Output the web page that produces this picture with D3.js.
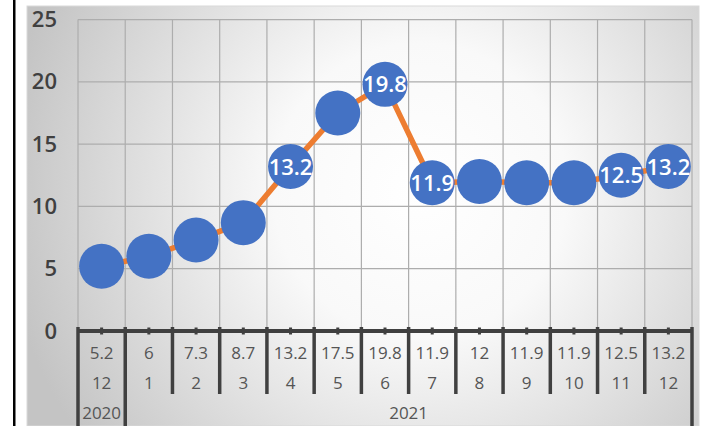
<!DOCTYPE html>
<html>
<head>
<meta charset="utf-8">
<script src="https://cdn.jsdelivr.net/npm/d3@7"></script>
<style>
  html, body { margin: 0; padding: 0; background: #ffffff; }
  svg { display: block; }
  text { font-family: "Open Sans", "Noto Sans", sans-serif; }
</style>
</head>
<body>
<svg id="chart" width="715" height="426"></svg>
<script>
// ---- data ----
const values = [5.2, 6, 7.3, 8.7, 13.2, 17.5, 19.8, 11.9, 12, 11.9, 11.9, 12.5, 13.2];
const months = ["12", "1", "2", "3", "4", "5", "6", "7", "8", "9", "10", "11", "12"];
const years = ["2020", "2021", "2021", "2021", "2021", "2021", "2021", "2021", "2021", "2021", "2021", "2021", "2021"];
const labelShown = [false, false, false, false, true, false, true, true, false, false, false, true, true];
const yTicks = [0, 5, 10, 15, 20, 25];

// ---- layout ----
const W = 715, H = 426;
const plot = { left: 78, right: 692, top: 19.6, bottom: 331 };
const svg = d3.select("#chart");

const defs = svg.append("defs");
const grad = defs.append("radialGradient")
  .attr("id", "bg").attr("gradientUnits", "userSpaceOnUse")
  .attr("cx", 420).attr("cy", 190).attr("r", 420);
grad.append("stop").attr("offset", "0%").attr("stop-color", "#ffffff");
grad.append("stop").attr("offset", "35%").attr("stop-color", "#f9f9f9");
grad.append("stop").attr("offset", "100%").attr("stop-color", "#c4c4c4");

// left black line
svg.append("rect").attr("x", 13).attr("y", 0).attr("width", 2.5).attr("height", H).attr("fill", "#000");

// chart background
svg.append("rect").attr("x", 27).attr("y", 6).attr("width", 672).attr("height", 420)
  .attr("fill", "url(#bg)").attr("stroke", "#d9d9d9").attr("stroke-width", 1);

const idx = values.map((d, i) => i);
const x = d3.scaleBand().domain(idx).range([plot.left, plot.right]).padding(0);
const y = d3.scaleLinear().domain([0, 25]).range([plot.bottom, plot.top]);

// horizontal gridlines
svg.append("g").selectAll("line").data(yTicks.filter(t => t > 0)).join("line")
  .attr("x1", plot.left).attr("x2", plot.right)
  .attr("y1", d => y(d)).attr("y2", d => y(d))
  .attr("stroke", "#adadad").attr("stroke-width", 1.2);

// vertical gridlines at category boundaries
const bounds = idx.map(i => x(i)).concat([x(12) + x.bandwidth()]);
svg.append("g").selectAll("line").data(bounds).join("line")
  .attr("x1", d => d).attr("x2", d => d)
  .attr("y1", plot.top).attr("y2", plot.bottom)
  .attr("stroke", "#adadad").attr("stroke-width", 1.2);

// y axis labels
const yAxis = d3.axisLeft(y).tickValues(yTicks).tickSize(0).tickPadding(21);
const gy = svg.append("g").attr("transform", `translate(${plot.left},0)`).call(yAxis);
gy.select(".domain").remove();
gy.selectAll("text")
  .style("font-family", '"Open Sans", sans-serif')
  .style("font-size", "22px").style("font-weight", "600").attr("fill", "#404040");

// x axis: thick line
svg.append("line").attr("x1", plot.left).attr("x2", plot.right)
  .attr("y1", plot.bottom).attr("y2", plot.bottom)
  .attr("stroke", "#404040").attr("stroke-width", 4);

// minor ticks at centers
svg.append("g").selectAll("rect").data(idx).join("rect")
  .attr("x", d => x(d) + x.bandwidth() / 2 - 1.5).attr("y", plot.bottom - 3.5)
  .attr("width", 3).attr("height", 7).attr("fill", "#404040");

// major ticks at boundaries; year boundaries extend to bottom
const yearBreak = bounds.map((b, i) => i === 0 || i === bounds.length - 1 || years[i] !== years[i - 1]);
svg.append("g").selectAll("line").data(bounds).join("line")
  .attr("x1", d => d).attr("x2", d => d)
  .attr("y1", plot.bottom - 4)
  .attr("y2", (d, i) => yearBreak[i] ? H : 394)
  .attr("stroke", "#404040").attr("stroke-width", 3.5);

// category labels
const lbl = svg.append("g").attr("fill", "#555555").style("font-size", "17px")
  .attr("text-anchor", "middle");
lbl.selectAll("text.v").data(idx).join("text").attr("class", "v")
  .attr("x", d => x(d) + x.bandwidth() / 2).attr("y", 353).attr("dy", "0.35em")
  .text(d => String(values[d]));
lbl.selectAll("text.m").data(idx).join("text").attr("class", "m")
  .attr("x", d => x(d) + x.bandwidth() / 2).attr("y", 383).attr("dy", "0.35em")
  .text(d => months[d]);

// year groups
const groups = [];
years.forEach((yr, i) => {
  if (i === 0 || yr !== years[i - 1]) groups.push({ yr, start: i, end: i });
  else groups[groups.length - 1].end = i;
});
lbl.selectAll("text.y").data(groups).join("text").attr("class", "y")
  .attr("x", g => (x(g.start) + x(g.end) + x.bandwidth()) / 2).attr("y", 413).attr("dy", "0.35em")
  .text(g => g.yr);

// line
const line = d3.line().x(i => x(i) + x.bandwidth() / 2).y(i => y(values[i]));
svg.append("path").datum(idx).attr("d", line)
  .attr("fill", "none").attr("stroke", "#ED7D31").attr("stroke-width", 5.5)
  .attr("stroke-linejoin", "round");

// markers
svg.append("g").selectAll("circle").data(idx).join("circle")
  .attr("cx", i => x(i) + x.bandwidth() / 2).attr("cy", i => y(values[i]))
  .attr("r", 22.5).attr("fill", "#4472C4");

// data labels
svg.append("g").selectAll("text").data(idx.filter(i => labelShown[i])).join("text")
  .attr("x", i => x(i) + x.bandwidth() / 2).attr("y", i => y(values[i])).attr("dy", "0.36em")
  .attr("text-anchor", "middle").attr("fill", "#ffffff")
  .style("font-size", "22px").style("font-weight", "600")
  .text(i => String(values[i]));
</script>
</body>
</html>
